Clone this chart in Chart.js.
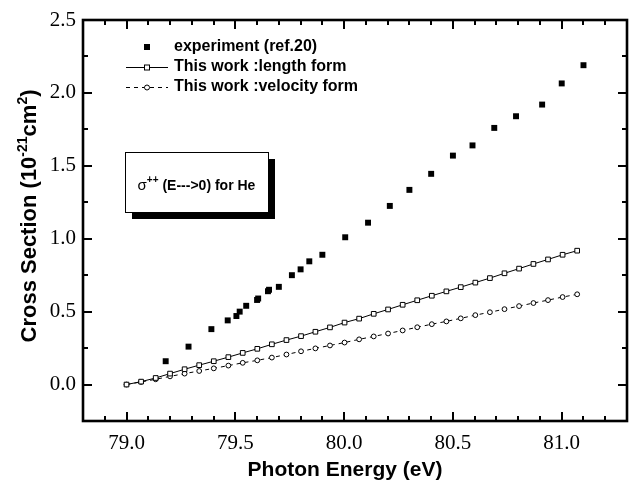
<!DOCTYPE html>
<html>
<head>
<meta charset="utf-8">
<script src="https://cdn.jsdelivr.net/npm/chart.js@4.4.1/dist/chart.umd.min.js"></script>
<style>
  html, body { margin: 0; padding: 0; background: #ffffff; }
  #wrap { width: 634px; height: 489px; }
</style>
</head>
<body>
<div id="wrap"><canvas id="c" width="634" height="489"></canvas></div>
<script>
// Experimental double-photoionization cross section of He (ref.20)
const expEnergy = [79.18, 79.285, 79.39, 79.465, 79.505, 79.52, 79.55, 79.60, 79.605, 79.65, 79.655, 79.70,
                   79.76, 79.80, 79.84, 79.90, 80.005, 80.11, 80.21, 80.30, 80.40, 80.50, 80.59, 80.69,
                   80.79, 80.91, 81.00, 81.10];
const expSigma  = [0.16, 0.26, 0.38, 0.44, 0.47, 0.50, 0.54, 0.58, 0.59, 0.64, 0.65, 0.67,
                   0.75, 0.79, 0.845, 0.89, 1.01, 1.11, 1.225, 1.335, 1.445, 1.57, 1.64, 1.76,
                   1.84, 1.92, 2.065, 2.19];

// Calculated energies (eV) for the two gauge forms
const calcEnergy = [79.000, 79.067, 79.134, 79.200, 79.267, 79.334, 79.401, 79.468, 79.534, 79.601,
                    79.668, 79.735, 79.802, 79.868, 79.935, 80.002, 80.069, 80.136, 80.202, 80.269,
                    80.336, 80.403, 80.470, 80.536, 80.603, 80.670, 80.737, 80.804, 80.870, 80.937,
                    81.004, 81.071];
const lengthSigma = [0.000, 0.020, 0.045, 0.075, 0.105, 0.133, 0.160, 0.188, 0.217, 0.245,
                     0.276, 0.305, 0.332, 0.362, 0.392, 0.425, 0.452, 0.485, 0.515, 0.547,
                     0.578, 0.609, 0.639, 0.668, 0.699, 0.730, 0.763, 0.795, 0.827, 0.858,
                     0.890, 0.918];
const velocitySigma = [0.000, 0.018, 0.036, 0.056, 0.075, 0.093, 0.111, 0.130, 0.149, 0.166,
                       0.185, 0.206, 0.228, 0.248, 0.268, 0.288, 0.310, 0.330, 0.350, 0.371,
                       0.393, 0.414, 0.433, 0.454, 0.476, 0.496, 0.517, 0.538, 0.559, 0.579,
                       0.600, 0.619];

const xTicks = [79.0, 79.5, 80.0, 80.5, 81.0];
const yTicks = [0.0, 0.5, 1.0, 1.5, 2.0, 2.5];
const seriesNames = ['experiment (ref.20)', 'This work :length form', 'This work :velocity form'];

const SANS = '"Liberation Sans", Arial, sans-serif';
const SERIF = '"Liberation Serif", "Times New Roman", serif';

const pts = (xs, ys) => xs.map((x, i) => ({ x: x, y: ys[i] }));

// Text runs with optional raised (superscript) pieces
function richWidth(ctx, parts) {
  let w = 0;
  for (const p of parts) { ctx.font = p.font; w += ctx.measureText(p.t).width; }
  return w;
}
function drawRich(ctx, parts, x, y) {
  let cx = x;
  for (const p of parts) {
    ctx.font = p.font;
    ctx.fillText(p.t, cx, y - (p.rise || 0));
    cx += ctx.measureText(p.t).width;
  }
}

const framePlugin = {
  id: 'frame',
  afterDatasetsDraw(chart) {
    const { ctx, chartArea: a, scales: { x, y } } = chart;
    ctx.save();
    ctx.strokeStyle = '#000';
    ctx.lineCap = 'butt';
    // inward tick marks on all four sides
    ctx.lineWidth = 2;
    for (let k = Math.ceil(x.min * 10 - 1e-6); k <= Math.floor(x.max * 10 + 1e-6); k++) {
      const px = Math.round(x.getPixelForValue(k / 10));
      const len = (k % 5 === 0) ? 9 : 5;
      ctx.beginPath();
      ctx.moveTo(px, a.bottom); ctx.lineTo(px, a.bottom - len);
      ctx.moveTo(px, a.top); ctx.lineTo(px, a.top + len);
      ctx.stroke();
    }
    for (let k = Math.ceil(y.min * 4 - 1e-6); k <= Math.floor(y.max * 4 + 1e-6); k++) {
      const py = Math.round(y.getPixelForValue(k / 4));
      const len = (k % 2 === 0) ? 9 : 5;
      ctx.beginPath();
      ctx.moveTo(a.left, py); ctx.lineTo(a.left + len, py);
      ctx.moveTo(a.right, py); ctx.lineTo(a.right - len, py);
      ctx.stroke();
    }
    // plot frame
    ctx.lineWidth = 2.6;
    ctx.strokeRect(a.left, a.top, a.right - a.left, a.bottom - a.top);
    ctx.restore();
  },
  afterDraw(chart) {
    const { ctx, chartArea: a } = chart;
    ctx.save();
    ctx.fillStyle = '#000';
    ctx.strokeStyle = '#000';

    // axis titles
    ctx.textBaseline = 'alphabetic';
    ctx.textAlign = 'left';
    ctx.font = 'bold 21px ' + SANS;
    const xt = 'Photon Energy (eV)';
    const xw = ctx.measureText(xt).width;
    ctx.fillText(xt, (a.left + a.right) / 2 - 10 - xw / 2, 476);

    const big = 'bold 22px ' + SANS, small = 'bold 14px ' + SANS;
    const yParts = [
      { t: 'Cross Section (10', font: big },
      { t: '-21', font: small, rise: 9 },
      { t: 'cm', font: big },
      { t: '2', font: small, rise: 9 },
      { t: ')', font: big }
    ];
    ctx.translate(36, 216);
    ctx.rotate(-Math.PI / 2);
    drawRich(ctx, yParts, -richWidth(ctx, yParts) / 2, 0);
    ctx.setTransform(1, 0, 0, 1, 0, 0);

    // legend in the upper-left corner of the plot
    const lx = a.left + 64, ly = a.top + 27, step = 20;
    ctx.font = 'bold 16px ' + SANS;
    ctx.textBaseline = 'middle';
    // filled square
    ctx.fillRect(lx - 3, ly - 3, 6, 6);
    ctx.fillText(seriesNames[0], lx + 27, ly);
    // solid line + open square
    ctx.lineWidth = 1;
    ctx.beginPath(); ctx.moveTo(lx - 21, ly + step + 0.5); ctx.lineTo(lx + 21, ly + step + 0.5); ctx.stroke();
    ctx.fillStyle = '#fff';
    ctx.fillRect(lx - 2.5, ly + step - 2, 5, 5);
    ctx.strokeRect(lx - 2.5, ly + step - 2, 5, 5);
    ctx.fillStyle = '#000';
    ctx.fillText(seriesNames[1], lx + 27, ly + step);
    // dashed line + open circle
    ctx.setLineDash([4, 4]);
    ctx.beginPath(); ctx.moveTo(lx - 21, ly + 2 * step + 0.5); ctx.lineTo(lx + 21, ly + 2 * step + 0.5); ctx.stroke();
    ctx.setLineDash([]);
    ctx.fillStyle = '#fff';
    ctx.beginPath(); ctx.arc(lx, ly + 2 * step + 0.5, 2.5, 0, Math.PI * 2); ctx.fill(); ctx.stroke();
    ctx.fillStyle = '#000';
    ctx.fillText(seriesNames[2], lx + 27, ly + 2 * step);

    // boxed note with a drop shadow
    const bx = a.left + 42, by = a.top + 132, bw = 143, bh = 60, sh = 7;
    ctx.fillRect(bx + sh, by + sh, bw, bh);
    ctx.fillStyle = '#fff';
    ctx.fillRect(bx, by, bw, bh);
    ctx.lineWidth = 1;
    ctx.strokeRect(bx + 0.5, by + 0.5, bw, bh);
    ctx.fillStyle = '#000';
    ctx.textBaseline = 'alphabetic';
    const note = [
      { t: '\u03C3', font: '15px ' + SANS },
      { t: '++', font: 'bold 10px ' + SANS, rise: 7 },
      { t: ' (E--->0) for He', font: 'bold 14px ' + SANS }
    ];
    drawRich(ctx, note, bx + bw / 2 - richWidth(ctx, note) / 2, by + 38);
    ctx.restore();
  }
};

new Chart(document.getElementById('c'), {
  type: 'scatter',
  data: {
    datasets: [
      {
        label: seriesNames[0],
        data: pts(expEnergy, expSigma),
        showLine: false,
        pointStyle: 'rect',
        pointRadius: 4.2,
        backgroundColor: '#000',
        borderColor: '#000',
        borderWidth: 0
      },
      {
        label: seriesNames[1],
        data: pts(calcEnergy, lengthSigma),
        showLine: true,
        borderColor: '#000',
        borderWidth: 1,
        pointStyle: 'rect',
        pointRadius: 3.3,
        pointBackgroundColor: '#fff',
        pointBorderColor: '#000',
        pointBorderWidth: 1
      },
      {
        label: seriesNames[2],
        data: pts(calcEnergy, velocitySigma),
        showLine: true,
        borderColor: '#000',
        borderWidth: 1,
        borderDash: [4, 4],
        pointStyle: 'circle',
        pointRadius: 2.4,
        pointBackgroundColor: '#fff',
        pointBorderColor: '#000',
        pointBorderWidth: 1
      }
    ]
  },
  options: {
    responsive: false,
    devicePixelRatio: 1,
    animation: false,
    layout: { padding: { top: 20, right: 7, left: 0, bottom: 0 } },
    plugins: { legend: { display: false }, tooltip: { enabled: false } },
    scales: {
      x: {
        type: 'linear',
        min: 78.8, max: 81.3,
        grid: { display: false, drawTicks: false },
        border: { display: false },
        afterBuildTicks(s) { s.ticks = xTicks.map(v => ({ value: v })); },
        afterFit(s) { s.height = 68; },
        ticks: {
          padding: 10,
          color: '#000',
          font: { family: SERIF, size: 21 },
          maxRotation: 0,
          callback: v => Number(v).toFixed(1)
        }
      },
      y: {
        type: 'linear',
        min: -0.25, max: 2.5,
        grid: { display: false, drawTicks: false },
        border: { display: false },
        afterBuildTicks(s) { s.ticks = yTicks.map(v => ({ value: v })); },
        afterFit(s) { s.width = 83; },
        ticks: {
          padding: 7,
          color: '#000',
          font: { family: SERIF, size: 21 },
          callback: v => Number(v).toFixed(1)
        }
      }
    }
  },
  plugins: [framePlugin]
});
</script>
</body>
</html>
